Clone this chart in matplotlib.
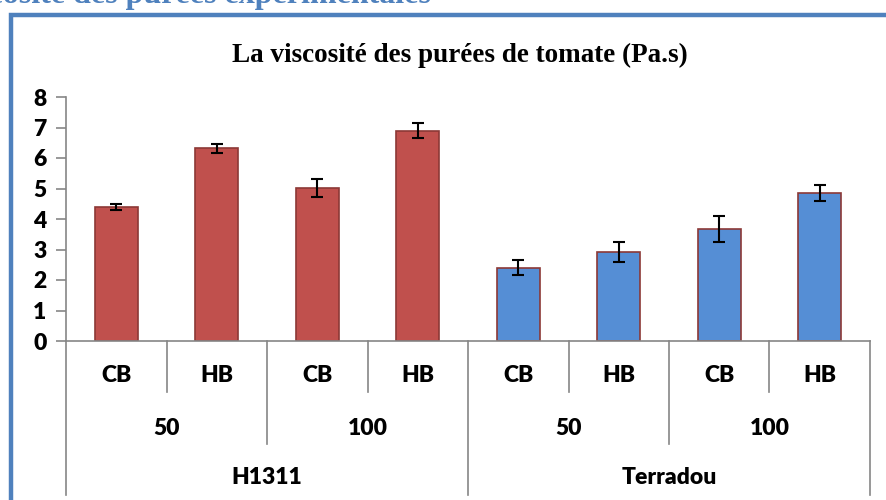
import matplotlib.pyplot as plt
import matplotlib.transforms as mtransforms
from matplotlib.patches import Rectangle

# data
varieties = ["H1311", "Terradou"]
doses = ["50", "100"]
treatments = ["CB", "HB"]
viscosity = [4.39, 6.32, 5.02, 6.90, 2.40, 2.91, 3.67, 4.85]
errors = [0.09, 0.15, 0.30, 0.24, 0.24, 0.33, 0.43, 0.27]
bar_colors = ["#C0504D"] * 4 + ["#558ED5"] * 4

W, H = 887, 500
fig = plt.figure(figsize=(W / 100, H / 100), dpi=100)

# blue frame and cut-off heading above it
fig.patches.append(Rectangle((11 / W, -0.1), 1.2, (H - 14.7) / H + 0.1,
                             transform=fig.transFigure, fill=False,
                             edgecolor="#4F81BD", linewidth=3.2))
fig.text(431 / W, (H - 3) / H, "Viscosité des purées expérimentales",
         ha="right", va="baseline", color="#4F81BD", fontsize=23,
         fontweight="bold", family="Liberation Serif")

fig.text(460 / W, (H - 62) / H, "La viscosité des purées de tomate (Pa.s)",
         ha="center", va="baseline", family="Liberation Serif",
         fontweight="bold", fontsize=19.5)

ax = fig.add_axes([66 / W, (H - 341) / H, (870 - 66) / W, (341 - 97) / H])

x = list(range(len(viscosity)))
ax.bar(x, viscosity, width=0.43, color=bar_colors, edgecolor="#8C3836",
       linewidth=1.2, zorder=2)
ax.errorbar(x, viscosity, yerr=errors, fmt="none", ecolor="black",
            elinewidth=1.5, capsize=4.2, capthick=1.5, zorder=3)

ax.set_xlim(-0.5, len(viscosity) - 0.5)
ax.set_ylim(0, 8)
ax.set_yticks(range(0, 9))
ax.set_xticks([])
for s in ["top", "right"]:
    ax.spines[s].set_visible(False)
for s in ["left", "bottom"]:
    ax.spines[s].set_color("#868686")
    ax.spines[s].set_linewidth(1.2)
ax.tick_params(axis="y", direction="out", length=7, width=1.2, color="#868686",
               pad=7)
for lab in ax.get_yticklabels():
    lab.set_fontfamily("Lato")
    lab.set_fontweight("heavy")
    lab.set_fontsize(16.5)

# multi-level category axis
trans = mtransforms.blended_transform_factory(ax.transData, ax.transAxes)
lab_kw = dict(transform=trans, ha="center", va="center", family="Lato",
              fontweight="heavy", fontsize=16.5)
row_y = [-0.143, -0.357, -0.561]
line_y = [-0.209, -0.422, -0.631]

n = len(viscosity)
for i in range(n):
    ax.text(i, row_y[0], treatments[i % 2], **lab_kw)
for j in range(n // 2):
    ax.text(2 * j + 0.5, row_y[1], doses[j % 2], **lab_kw)
for k in range(n // 4):
    ax.text(4 * k + 1.5, row_y[2], varieties[k], **lab_kw)

for b in range(n + 1):
    if b % 4 == 0:
        y_end = line_y[2]
    elif b % 2 == 0:
        y_end = line_y[1]
    else:
        y_end = line_y[0]
    ax.plot([b - 0.5, b - 0.5], [0, y_end], transform=trans, color="#868686",
            linewidth=1.2, clip_on=False)

fig.savefig("out.png", dpi=100)
